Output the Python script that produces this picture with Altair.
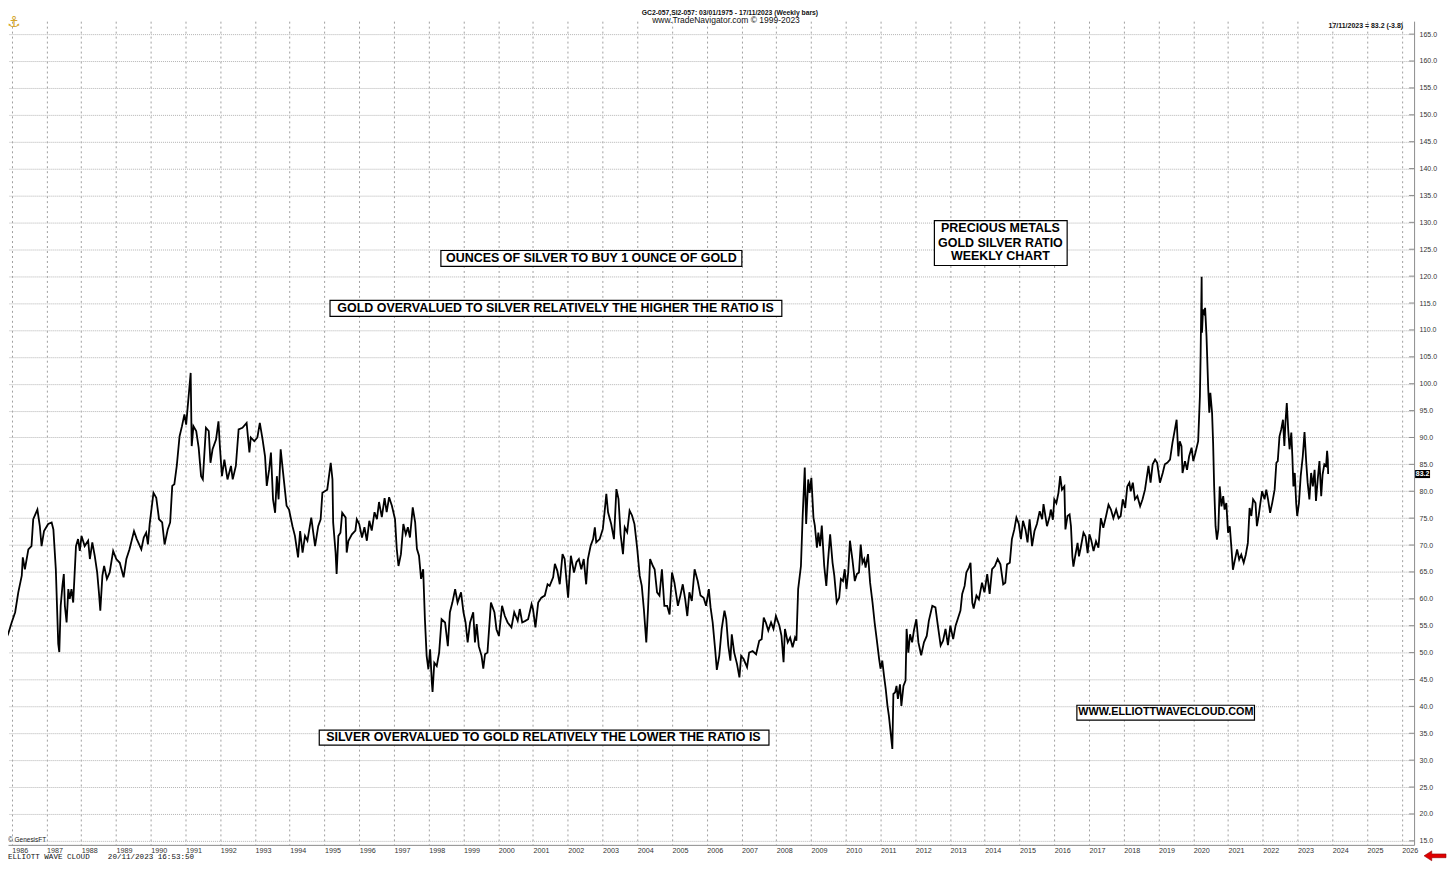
import altair as alt
import pandas as pd

# ---- weekly gold/silver ratio (decimal year, ratio) ----
weekly_1985_1995 = [
    (1985.67, 53.2), (1985.76, 53.8), (1985.81, 52.2), (1985.90, 53.5), (1986.00, 55.6), (1986.10, 57.5),
    (1986.19, 61.2), (1986.29, 64.3), (1986.32, 67.7), (1986.38, 65.5), (1986.48, 69.2), (1986.57, 69.8),
    (1986.62, 74.8), (1986.74, 76.6), (1986.81, 73.5), (1986.86, 69.8), (1986.93, 72.6), (1987.05, 73.9),
    (1987.15, 74.2), (1987.20, 72.9), (1987.27, 65.5), (1987.31, 57.5), (1987.34, 51.6), (1987.37, 50.1),
    (1987.41, 58.7), (1987.46, 62.4), (1987.50, 64.6), (1987.53, 58.7), (1987.58, 55.6), (1987.63, 61.8),
    (1987.67, 60.0), (1987.72, 61.8), (1987.77, 59.3), (1987.85, 69.8), (1987.91, 71.1), (1987.96, 68.9),
    (1988.01, 71.7), (1988.10, 69.8), (1988.20, 70.8), (1988.25, 67.4), (1988.32, 70.5), (1988.39, 68.0),
    (1988.46, 64.9), (1988.51, 61.2), (1988.55, 57.8), (1988.61, 64.3), (1988.66, 66.1), (1988.74, 63.7),
    (1988.82, 64.9), (1988.92, 68.9), (1989.01, 67.4), (1989.11, 66.7), (1989.22, 64.0), (1989.30, 67.4),
    (1989.39, 69.2), (1989.52, 72.6), (1989.60, 71.1), (1989.73, 69.2), (1989.80, 71.4), (1989.87, 72.3),
    (1989.92, 70.1), (1989.97, 73.9), (1990.08, 79.7), (1990.16, 78.8), (1990.24, 74.8), (1990.33, 74.2),
    (1990.40, 70.1), (1990.49, 72.9), (1990.56, 74.2), (1990.62, 81.0), (1990.68, 81.3), (1990.75, 84.7),
    (1990.83, 90.2), (1990.90, 92.1), (1990.97, 94.3), (1991.02, 92.4), (1991.10, 98.3), (1991.15, 102.0),
    (1991.18, 88.4), (1991.23, 92.1), (1991.31, 91.2), (1991.38, 88.1), (1991.45, 82.8), (1991.50, 82.2),
    (1991.59, 91.8), (1991.67, 91.2), (1991.72, 85.3), (1991.78, 87.8), (1991.88, 89.6), (1991.95, 93.0),
    (1991.99, 88.4), (1992.05, 82.8), (1992.12, 85.9), (1992.21, 82.2), (1992.31, 84.7), (1992.36, 82.2),
    (1992.45, 84.7), (1992.53, 91.5), (1992.64, 91.8), (1992.76, 92.7), (1992.84, 87.2), (1992.88, 90.0),
    (1992.98, 89.3), (1993.07, 90.0), (1993.14, 92.7), (1993.22, 89.6), (1993.29, 86.5), (1993.34, 81.0),
    (1993.41, 84.1), (1993.46, 87.2), (1993.52, 78.5), (1993.58, 76.0), (1993.63, 82.8), (1993.68, 78.5),
    (1993.74, 87.8), (1993.81, 83.4), (1993.91, 77.3), (1993.98, 76.6), (1994.08, 73.5), (1994.15, 71.7),
    (1994.24, 67.7), (1994.30, 72.6), (1994.37, 68.6), (1994.44, 71.7), (1994.51, 70.8), (1994.62, 75.1),
    (1994.73, 69.8), (1994.82, 73.5), (1994.89, 74.8), (1994.94, 79.7), (1995.08, 80.3), (1995.18, 85.3),
    (1995.23, 82.2), (1995.25, 74.2), (1995.32, 68.6), (1995.35, 64.6), (1995.40, 71.7), (1995.46, 72.3),
    (1995.51, 76.0), (1995.61, 75.1), (1995.64, 68.6),
]

weekly_1995_2005 = [
    (1995.69, 70.8), (1995.79, 72.0), (1995.89, 72.7), (1995.93, 74.8), (1996.00, 73.9), (1996.08, 71.4),
    (1996.15, 73.3), (1996.22, 70.8), (1996.29, 74.5), (1996.36, 72.7), (1996.44, 76.1), (1996.51, 74.8),
    (1996.57, 78.0), (1996.65, 75.2), (1996.73, 78.7), (1996.79, 76.1), (1996.86, 78.9), (1996.94, 77.3),
    (1997.03, 74.8), (1997.08, 69.3), (1997.13, 66.1), (1997.20, 68.3), (1997.27, 73.9), (1997.34, 72.0),
    (1997.40, 73.3), (1997.46, 71.4), (1997.54, 77.0), (1997.61, 74.2), (1997.66, 69.3), (1997.72, 68.0),
    (1997.78, 63.7), (1997.84, 65.5), (1997.89, 56.2), (1997.94, 49.4), (1997.99, 46.9), (1998.04, 50.6),
    (1998.09, 44.4), (1998.11, 42.7), (1998.16, 48.1), (1998.23, 47.5), (1998.30, 50.0), (1998.37, 56.2),
    (1998.47, 55.6), (1998.55, 51.2), (1998.61, 57.5), (1998.68, 59.3), (1998.76, 61.8), (1998.83, 59.3),
    (1998.93, 61.2), (1999.00, 57.5), (1999.06, 55.6), (1999.12, 51.9), (1999.19, 55.6), (1999.28, 57.5),
    (1999.33, 51.9), (1999.38, 55.3), (1999.44, 51.2), (1999.52, 49.4), (1999.57, 47.0), (1999.62, 49.7),
    (1999.69, 50.0), (1999.79, 59.3), (1999.89, 57.5), (1999.95, 54.3), (2000.02, 53.1), (2000.11, 58.7),
    (2000.19, 56.8), (2000.27, 55.6), (2000.38, 54.7), (2000.46, 57.5), (2000.56, 55.9), (2000.62, 58.1),
    (2000.69, 55.6), (2000.78, 55.9), (2000.86, 56.2), (2000.96, 59.0), (2001.00, 58.1), (2001.07, 54.7),
    (2001.15, 59.3), (2001.24, 60.2), (2001.34, 60.6), (2001.42, 62.7), (2001.48, 62.4), (2001.58, 64.0),
    (2001.63, 66.5), (2001.70, 65.2), (2001.77, 62.7), (2001.85, 68.3), (2001.91, 67.4), (2001.96, 63.7),
    (2002.01, 60.2), (2002.09, 68.0), (2002.18, 64.9), (2002.25, 66.8), (2002.32, 67.4), (2002.39, 65.5),
    (2002.46, 67.4), (2002.53, 62.7), (2002.58, 67.4), (2002.66, 69.9), (2002.73, 71.1), (2002.78, 73.3),
    (2002.82, 70.5), (2002.92, 71.1), (2003.01, 73.0), (2003.06, 76.1), (2003.11, 79.5), (2003.16, 76.1),
    (2003.25, 73.9), (2003.33, 71.1), (2003.40, 80.4), (2003.46, 78.6), (2003.52, 72.0), (2003.59, 68.3),
    (2003.64, 73.3), (2003.71, 72.4), (2003.78, 76.4), (2003.85, 75.5), (2003.92, 73.9), (2004.00, 69.3),
    (2004.07, 64.3), (2004.13, 62.4), (2004.19, 58.1), (2004.26, 51.9), (2004.31, 58.1), (2004.37, 67.4),
    (2004.45, 66.1), (2004.50, 65.5), (2004.57, 61.2), (2004.64, 60.6), (2004.71, 65.5), (2004.78, 58.7),
    (2004.86, 58.7), (2004.93, 57.1), (2005.00, 64.9), (2005.07, 63.0), (2005.17, 58.7), (2005.24, 60.6),
    (2005.31, 62.7), (2005.38, 59.9), (2005.44, 56.8), (2005.50, 61.2), (2005.57, 59.6), (2005.65, 65.5),
]

weekly_2005_2015 = [
    (2005.74, 63.3), (2005.82, 60.6), (2005.91, 60.2), (2005.98, 58.7), (2006.06, 61.8), (2006.11, 58.4),
    (2006.17, 55.6), (2006.24, 50.7), (2006.29, 46.8), (2006.36, 49.4), (2006.43, 54.4), (2006.51, 57.8),
    (2006.56, 56.2), (2006.62, 51.3), (2006.68, 48.5), (2006.72, 53.4), (2006.79, 50.0), (2006.87, 47.9),
    (2006.94, 45.4), (2006.99, 49.4), (2007.06, 48.8), (2007.16, 47.3), (2007.22, 50.0), (2007.32, 50.3),
    (2007.42, 49.7), (2007.51, 52.2), (2007.58, 52.5), (2007.64, 56.5), (2007.70, 55.6), (2007.77, 54.1),
    (2007.85, 55.6), (2007.92, 54.4), (2007.99, 56.8), (2008.09, 55.0), (2008.15, 53.1), (2008.21, 48.2),
    (2008.25, 54.4), (2008.33, 51.9), (2008.40, 52.8), (2008.47, 51.0), (2008.54, 52.8), (2008.58, 52.2),
    (2008.63, 61.8), (2008.71, 66.1), (2008.76, 75.4), (2008.82, 84.4), (2008.86, 73.9), (2008.92, 82.2),
    (2008.96, 79.7), (2009.01, 82.5), (2009.07, 75.1), (2009.11, 73.6), (2009.17, 69.5), (2009.21, 72.3),
    (2009.26, 69.8), (2009.31, 73.6), (2009.38, 66.1), (2009.44, 62.4), (2009.49, 67.1), (2009.55, 72.0),
    (2009.62, 66.7), (2009.67, 64.3), (2009.74, 59.3), (2009.81, 60.2), (2009.86, 63.7), (2009.92, 63.3),
    (2009.97, 65.5), (2010.02, 61.8), (2010.07, 64.9), (2010.12, 70.8), (2010.19, 67.4), (2010.26, 63.3),
    (2010.32, 64.6), (2010.38, 64.9), (2010.43, 70.1), (2010.48, 66.7), (2010.53, 67.4), (2010.57, 65.8),
    (2010.64, 68.3), (2010.70, 63.0), (2010.77, 59.3), (2010.83, 55.6), (2010.89, 52.5), (2010.96, 48.8),
    (2011.00, 47.0), (2011.05, 48.5), (2011.10, 45.7), (2011.15, 43.2), (2011.20, 40.1), (2011.24, 38.3),
    (2011.29, 35.2), (2011.34, 32.1), (2011.37, 42.3), (2011.42, 42.6), (2011.46, 43.8), (2011.50, 41.4),
    (2011.56, 44.1), (2011.60, 40.1), (2011.66, 43.8), (2011.72, 44.8), (2011.75, 54.4), (2011.80, 50.0),
    (2011.85, 53.4), (2011.91, 51.9), (2011.96, 54.1), (2012.03, 56.2), (2012.09, 51.9), (2012.17, 49.5),
    (2012.25, 51.9), (2012.33, 53.1), (2012.39, 55.9), (2012.49, 58.7), (2012.58, 58.4), (2012.65, 55.0),
    (2012.73, 51.3), (2012.80, 52.2), (2012.87, 54.4), (2012.94, 51.4), (2013.01, 55.0), (2013.09, 52.5),
    (2013.16, 55.0), (2013.22, 56.2), (2013.30, 57.8), (2013.35, 60.9), (2013.42, 62.4), (2013.47, 64.9),
    (2013.54, 65.8), (2013.59, 66.7), (2013.64, 59.3), (2013.68, 58.2), (2013.76, 60.6), (2013.83, 59.9),
    (2013.92, 63.0), (2013.99, 61.2), (2014.07, 64.6), (2014.14, 60.9), (2014.21, 65.5), (2014.29, 66.1),
    (2014.37, 67.4), (2014.45, 66.4), (2014.53, 62.7), (2014.59, 63.0), (2014.64, 66.4), (2014.72, 66.7),
    (2014.78, 71.1), (2014.85, 72.9), (2014.91, 75.1), (2014.98, 73.9), (2015.04, 71.1), (2015.10, 74.5),
    (2015.17, 72.9), (2015.23, 70.5), (2015.29, 74.8), (2015.36, 69.8), (2015.43, 72.6), (2015.50, 73.9),
    (2015.58, 76.3), (2015.65, 74.8), (2015.69, 77.6),
]

weekly_2015_2023 = [
    (2015.79, 73.5), (2015.87, 75.4), (2015.90, 76.6), (2015.96, 74.7), (2016.00, 78.5), (2016.06, 77.8),
    (2016.12, 79.7), (2016.17, 82.8), (2016.22, 80.3), (2016.29, 80.9), (2016.32, 72.9), (2016.38, 75.4),
    (2016.44, 75.7), (2016.48, 73.5), (2016.52, 67.9), (2016.55, 66.0), (2016.60, 67.9), (2016.67, 70.4),
    (2016.71, 67.9), (2016.76, 69.5), (2016.84, 72.3), (2016.90, 71.6), (2016.96, 68.5), (2017.01, 72.0),
    (2017.06, 71.0), (2017.13, 68.9), (2017.20, 70.7), (2017.27, 69.5), (2017.34, 75.0), (2017.41, 73.2),
    (2017.49, 75.4), (2017.56, 77.5), (2017.63, 76.6), (2017.70, 75.0), (2017.78, 76.6), (2017.85, 75.0),
    (2017.91, 75.4), (2017.97, 78.5), (2018.04, 76.9), (2018.10, 80.9), (2018.16, 81.6), (2018.20, 80.0),
    (2018.26, 81.6), (2018.32, 78.5), (2018.39, 79.1), (2018.47, 77.2), (2018.54, 78.5), (2018.61, 80.3),
    (2018.71, 84.7), (2018.77, 81.6), (2018.83, 85.0), (2018.90, 85.9), (2018.96, 85.3), (2019.04, 81.6),
    (2019.12, 83.4), (2019.18, 85.0), (2019.25, 85.3), (2019.33, 85.9), (2019.40, 89.0), (2019.47, 91.5),
    (2019.52, 93.3), (2019.57, 86.5), (2019.61, 89.3), (2019.66, 88.4), (2019.69, 83.4), (2019.76, 85.6),
    (2019.82, 84.0), (2019.88, 86.5), (2019.95, 88.1), (2020.00, 85.6), (2020.07, 87.4), (2020.14, 89.3),
    (2020.19, 97.7), (2020.21, 105.1), (2020.24, 119.9), (2020.25, 109.5), (2020.28, 113.8), (2020.31, 113.2),
    (2020.34, 114.1), (2020.38, 108.8), (2020.43, 98.9), (2020.46, 94.6), (2020.49, 98.3), (2020.54, 94.6),
    (2020.57, 89.0), (2020.60, 80.9), (2020.64, 73.5), (2020.68, 71.0), (2020.72, 72.9), (2020.76, 80.9),
    (2020.81, 77.2), (2020.86, 79.1), (2020.90, 76.6), (2020.95, 77.8), (2021.00, 72.3), (2021.05, 73.5),
    (2021.10, 69.2), (2021.14, 65.4), (2021.19, 67.0), (2021.26, 69.2), (2021.32, 67.3), (2021.38, 68.2),
    (2021.45, 66.7), (2021.51, 68.2), (2021.57, 70.4), (2021.62, 76.9), (2021.67, 75.4), (2021.72, 78.5),
    (2021.79, 77.8), (2021.83, 73.5), (2021.88, 75.4), (2021.93, 77.8), (2021.98, 80.0), (2022.05, 78.5),
    (2022.10, 80.3), (2022.15, 78.5), (2022.21, 76.0), (2022.27, 77.8), (2022.34, 80.3), (2022.39, 85.3),
    (2022.43, 85.6), (2022.48, 90.2), (2022.53, 91.5), (2022.58, 93.3), (2022.62, 88.4), (2022.65, 92.7),
    (2022.69, 96.4), (2022.73, 91.5), (2022.77, 87.8), (2022.82, 90.9), (2022.85, 86.5), (2022.88, 80.9),
    (2022.92, 83.4), (2022.96, 77.8), (2022.99, 75.4), (2023.04, 77.8), (2023.09, 82.8), (2023.15, 86.5),
    (2023.20, 91.0), (2023.25, 85.3), (2023.29, 81.6), (2023.34, 78.5), (2023.39, 83.4), (2023.44, 80.9),
    (2023.49, 84.0), (2023.53, 78.2), (2023.58, 82.2), (2023.63, 85.6), (2023.68, 79.1), (2023.72, 83.1),
    (2023.77, 85.0), (2023.82, 84.7), (2023.85, 87.5), (2023.87, 85.9), (2023.88, 83.2),
]

year_ticks = list(range(1986, 2027))
ratio_ticks = list(range(15, 166, 5))
last_value = 83.2

header_1 = "GC2-057,SI2-057:  03/01/1975 - 17/11/2023  (Weekly bars)"
header_2 = "www.TradeNavigator.com \u00a9 1999-2023"
last_label = "17/11/2023 = 83.2 (-3.8)"
footer = "ELLIOTT WAVE CLOUD\u00a0\u00a0\u00a0\u00a020/11/2023 16:53:50"
copyright_txt = "\u00a9 GenesisFT"

# annotation boxes (year / ratio units)
ann_boxes = pd.DataFrame({
    "year": [1998.35, 1995.16, 2012.55, 2016.65, 1994.85],
    "year_end": [2007.01, 2008.16, 2016.37, 2021.76, 2007.79],
    "ratio": [121.80, 112.52, 121.98, 37.43, 32.79],
    "ratio_end": [124.76, 115.49, 130.33, 40.21, 35.57],
})
ann_text = pd.DataFrame({
    "label": ["OUNCES OF SILVER TO BUY 1 OUNCE OF GOLD",
              "GOLD OVERVALUED TO SILVER RELATIVELY THE HIGHER THE RATIO IS",
              "PRECIOUS METALS", "GOLD SILVER RATIO", "WEEKLY CHART",
              "WWW.ELLIOTTWAVECLOUD.COM",
              "SILVER OVERVALUED TO GOLD RELATIVELY THE LOWER THE RATIO IS"],
    "year": [2002.68, 2001.65, 2014.45, 2014.45, 2014.45, 2019.21, 2001.30],
    "ratio": [123.28, 114.01, 129.03, 126.25, 123.65, 38.91, 34.28],
    "fs": [12.5, 12.5, 12.5, 12.5, 12.5, 10.8, 12.5],
})

rows = weekly_1985_1995 + weekly_1995_2005 + weekly_2005_2015 + weekly_2015_2023
df = pd.DataFrame(rows, columns=["year", "ratio"])

W, H = 1410, 826
xs = alt.Scale(domain=[1985.894, 2026.353], nice=False, zero=False)
ys = alt.Scale(domain=[14.25, 167.41], nice=False, zero=False)
FONT = "Liberation Sans"

x_axis = alt.Axis(
    values=year_ticks, format="d", title=None, grid=True, gridColor="#a0a0a0",
    gridDash=[2, 3], ticks=False, domainColor="#8c8c8c", labelFontSize=7.2,
    labelColor="#333333", labelAlign="left", labelFlush=False, labelOverlap=False,
    labelSeparation=0, labelBound=False, labelPadding=2, labelFont=FONT)
y_axis = alt.Axis(
    orient="right", values=ratio_ticks, format=".1f", title=None, grid=True,
    gridColor="#b4b4b4", gridDash=[1, 1], ticks=False, domainColor="#8c8c8c",
    labelFontSize=7, labelColor="#333333", labelPadding=5, labelFlush=False,
    labelOverlap=False, labelSeparation=0, labelBound=False, labelFont=FONT)

line = alt.Chart(df).mark_line(color="black", strokeWidth=1.8, clip=True).encode(
    x=alt.X("year:Q", scale=xs, axis=x_axis),
    y=alt.Y("ratio:Q", scale=ys, axis=y_axis),
)

inner_ticks = alt.Chart(pd.DataFrame({"ratio": ratio_ticks})).mark_rule(color="#8c8c8c").encode(
    x=alt.value(W - 5), x2=alt.value(W), y=alt.Y("ratio:Q", scale=ys, axis=None))

boxes = alt.Chart(ann_boxes).mark_rect(fill="white", stroke="black", strokeWidth=1.2).encode(
    x=alt.X("year:Q", scale=xs, axis=None), x2="year_end:Q",
    y=alt.Y("ratio:Q", scale=ys, axis=None), y2="ratio_end:Q")

texts = alt.Chart(ann_text).mark_text(font=FONT, fontWeight="bold", color="black",
                                      baseline="middle", align="center").encode(
    x=alt.X("year:Q", scale=xs, axis=None), y=alt.Y("ratio:Q", scale=ys, axis=None),
    text="label:N", size=alt.Size("fs:Q", scale=None, legend=None))

badge_df = pd.DataFrame({"ratio": [last_value]})
badge = alt.Chart(badge_df).transform_calculate(
    lo="datum.ratio - 0.75", hi="datum.ratio + 0.75").mark_rect(color="black").encode(
    x=alt.value(W + 1), x2=alt.value(W + 16),
    y=alt.Y("lo:Q", scale=ys, axis=None), y2="hi:Q")
badge_txt = alt.Chart(badge_df).mark_text(color="white", fontSize=7, fontWeight="bold",
                                          font=FONT, baseline="middle").encode(
    x=alt.value(W + 8.5), y=alt.Y("ratio:Q", scale=ys, axis=None),
    text=alt.Text("ratio:Q", format=".1f"))


def label(txt, x, y, **kw):
    return alt.Chart(pd.DataFrame({"t": [txt]})).mark_text(baseline="middle", **kw).encode(
        x=alt.value(x), y=alt.value(y), text="t:N")


h1 = label(header_1, 724, -8, font=FONT, fontSize=6.8, fontWeight="bold", color="#111")
h2 = label(header_2, 720, -1, font=FONT, fontSize=8.5, color="#111")
lastl = label(last_label, 1399, 5, align="right", font=FONT, fontSize=7, fontWeight="bold", color="#111")
copy_l = label(copyright_txt, 0, 821, align="left", font=FONT, fontSize=6.5, color="#222")
foot = label(footer, 0, 838, align="left", font="Liberation Mono", fontSize=7.6, color="#111")
logo = label("\u2693", 6, 1, font="DejaVu Sans", fontSize=15, color="#d4a52a")

arrow_path = "M-1,0 L-0.3,-0.45 L-0.3,-0.17 L1,-0.17 L1,0.17 L-0.3,0.17 L-0.3,0.45 Z"
arrow = alt.Chart(pd.DataFrame({"a": [1]})).mark_point(
    shape=arrow_path, filled=True, fill="#e00000", stroke="#900000", strokeWidth=0.6,
    size=484, opacity=1).encode(x=alt.value(W + 21), y=alt.value(837))

chart = alt.layer(
    line, inner_ticks, boxes, texts, badge, badge_txt,
    h1, h2, lastl, copy_l, foot, logo, arrow
).resolve_axis(
    x="independent", y="independent"
).properties(
    width=W, height=H,
    padding={"left": 0, "top": 12, "right": 34, "bottom": 16},
    autosize=alt.AutoSizeParams(type="none"),
    background="white",
).configure_view(stroke=None)

chart.save("out.html", embed_options={"renderer": "svg", "actions": False})
